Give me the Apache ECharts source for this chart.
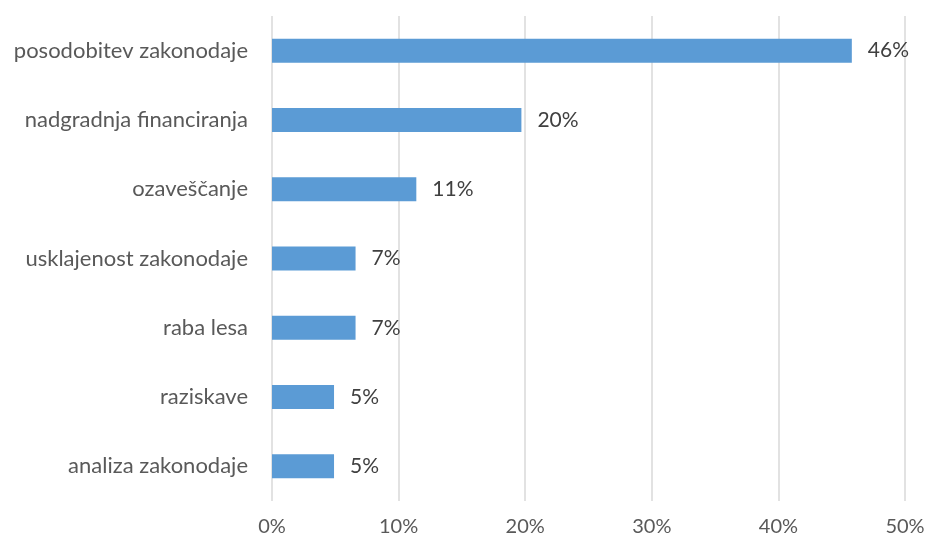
<!DOCTYPE html>
<html>
<head>
<meta charset="utf-8">
<script src="https://cdn.jsdelivr.net/npm/echarts@6/dist/echarts.min.js"></script>
<style>
  html, body { margin: 0; padding: 0; background: #fff; }
  #chart { width: 928px; height: 543px; }
</style>
</head>
<body>
<div id="chart"></div>
<script>
// categories listed bottom to top (category axis on y starts at the bottom)
var categories = [
  'analiza zakonodaje',
  'raziskave',
  'raba lesa',
  'usklajenost zakonodaje',
  'ozaveščanje',
  'nadgradnja financiranja',
  'posodobitev zakonodaje'
];
var shares = [4.9, 4.9, 6.6, 6.6, 11.4, 19.7, 45.8];
var xTicks = [0, 10, 20, 30, 40, 50];

var textColor = '#595959';
var fontFamily = 'Lato, "Open Sans", sans-serif';

var chart = echarts.init(document.getElementById('chart'));

var option = {
  animation: false,
  grid: { left: 272, right: 23, top: 16, bottom: 42 },
  xAxis: {
    type: 'value',
    min: xTicks[0],
    max: xTicks[xTicks.length - 1],
    interval: 10,
    axisLine: { show: false },
    axisTick: { show: false },
    splitLine: { lineStyle: { color: '#d9d9d9', width: 1.5 } },
    axisLabel: {
      color: textColor, fontSize: 20, fontFamily: fontFamily, margin: 16,
      formatter: function (v) { return v + '%'; }
    }
  },
  yAxis: {
    type: 'category',
    data: categories,
    axisLine: { show: false },
    axisTick: { show: false },
    axisLabel: { color: textColor, fontSize: 22, fontFamily: fontFamily, margin: 24 }
  },
  series: [{
    type: 'bar',
    data: shares,
    barWidth: 24,
    itemStyle: { color: '#5b9bd5' },
    label: {
      show: true,
      position: 'right',
      distance: 16,
      color: '#404040',
      fontSize: 21,
      fontFamily: fontFamily,
      formatter: function (p) { return Math.round(p.value) + '%'; }
    }
  }]
};

chart.setOption(option);
</script>
</body>
</html>
